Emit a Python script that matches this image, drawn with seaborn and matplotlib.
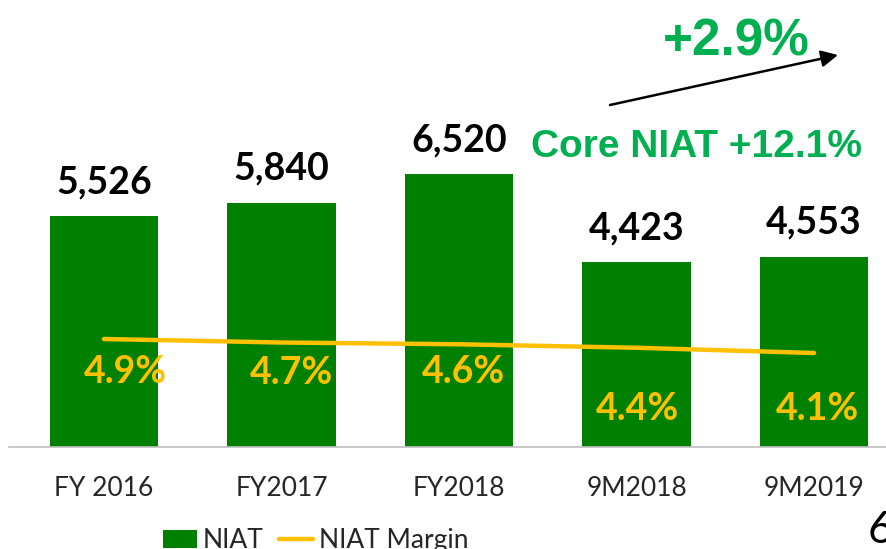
import numpy as np
import matplotlib.pyplot as plt
import seaborn as sns
from matplotlib.patches import Patch
from matplotlib.lines import Line2D

# Dados
categories = ['FY 2016', 'FY2017', 'FY2018', '9M2018', '9M2019']
niat = [5526, 5840, 6520, 4423, 4553]
margin = [4.9, 4.7, 4.6, 4.4, 4.1]
niat_labels = ['5,526', '5,840', '6,520', '4,423', '4,553']
margin_labels = ['4.9%', '4.7%', '4.6%', '4.4%', '4.1%']
growth_text = '+2.9%'
core_text = 'Core NIAT +12.1%'

# Cores
bar_green = '#008000'
line_gold = '#FFC000'
text_green = '#00B050'

# deslocamento (px) dos rótulos da margem em relação ao ponto
margin_offsets = [(21, -44), (10, -41), (4, -39), (1, -72), (3, -67)]

sns.set_style('white')
plt.rcParams['font.family'] = ['Lato', 'DejaVu Sans']

fig = plt.figure(figsize=(8.87, 5.49), dpi=100)
W, H = 887, 549
ax = fig.add_axes([9 / W, (H - 447) / H, (W - 9) / W, 447 / H])

sns.barplot(x=categories, y=niat, color=bar_green, saturation=1, width=0.61,
            linewidth=0, ax=ax)
ax.set_xlim(-0.535, 4.411)
ax.set_ylim(0, 10694)

for i, (v, lab) in enumerate(zip(niat, niat_labels)):
    ax.annotate(lab, (i, v), xytext=(0, 16.5), textcoords='offset points',
                ha='center', va='baseline', fontsize=27, fontweight='bold',
                color='black')

ax2 = ax.twinx()
pos = np.arange(len(categories))
sns.lineplot(x=pos, y=margin, color=line_gold, linewidth=3.2, ax=ax2,
             legend=False)
for l in ax2.lines:
    l.set_solid_capstyle('round')
ax2.set_ylim(-1.27, 24.27)
ax2.set_axis_off()

for i, (v, lab) in enumerate(zip(margin, margin_labels)):
    dx, dy = margin_offsets[i]
    ax2.annotate(lab, (i, v), xytext=(dx * 0.72, dy * 0.72),
                 textcoords='offset points', ha='center', va='baseline',
                 fontsize=27, fontweight='bold', color=line_gold)

# eixos
for s in ['top', 'left', 'right']:
    ax.spines[s].set_visible(False)
ax.spines['bottom'].set_color('#BFBFBF')
ax.spines['bottom'].set_linewidth(1.2)
ax.set_yticks([])
ax.set_xlabel('')
ax.set_ylabel('')
ax.tick_params(axis='x', length=0, pad=21)
for t in ax.get_xticklabels():
    t.set_fontsize(19)

# anotações de crescimento
fig.text(736 / W, 1 - 55 / H, growth_text, ha='center', va='baseline',
         fontsize=37, fontweight='bold', color=text_green,
         family=['Liberation Sans', 'DejaVu Sans'])
fig.text(697 / W, 1 - 157 / H, core_text, ha='center', va='baseline',
         fontsize=28, fontweight='bold', color=text_green,
         family=['Liberation Sans', 'DejaVu Sans'])
ax.annotate('', xy=(838 / W, 1 - 55 / H), xytext=(610 / W, 1 - 105 / H),
            xycoords='figure fraction', textcoords='figure fraction',
            arrowprops=dict(arrowstyle='-|>', color='black', lw=1.8,
                            mutation_scale=25, shrinkA=0, shrinkB=0))

# legenda
handles = [Patch(facecolor=bar_green, edgecolor='none', label='NIAT'),
           Line2D([0], [0], color=line_gold, lw=3.2, solid_capstyle='round',
                  label='NIAT Margin')]
fig.legend(handles=handles, loc='upper left', ncol=2, frameon=False,
           bbox_to_anchor=(163 / W, 1 - 528 / H), borderpad=0,
           borderaxespad=0, handlelength=1.3, handletextpad=0.2,
           columnspacing=0.6, prop={'size': 19})

# número da página
fig.text(868 / W, 1 - 510 / H, '6', ha='left', va='top', fontsize=32,
         color='black')

fig.savefig('out.png', dpi=100)
